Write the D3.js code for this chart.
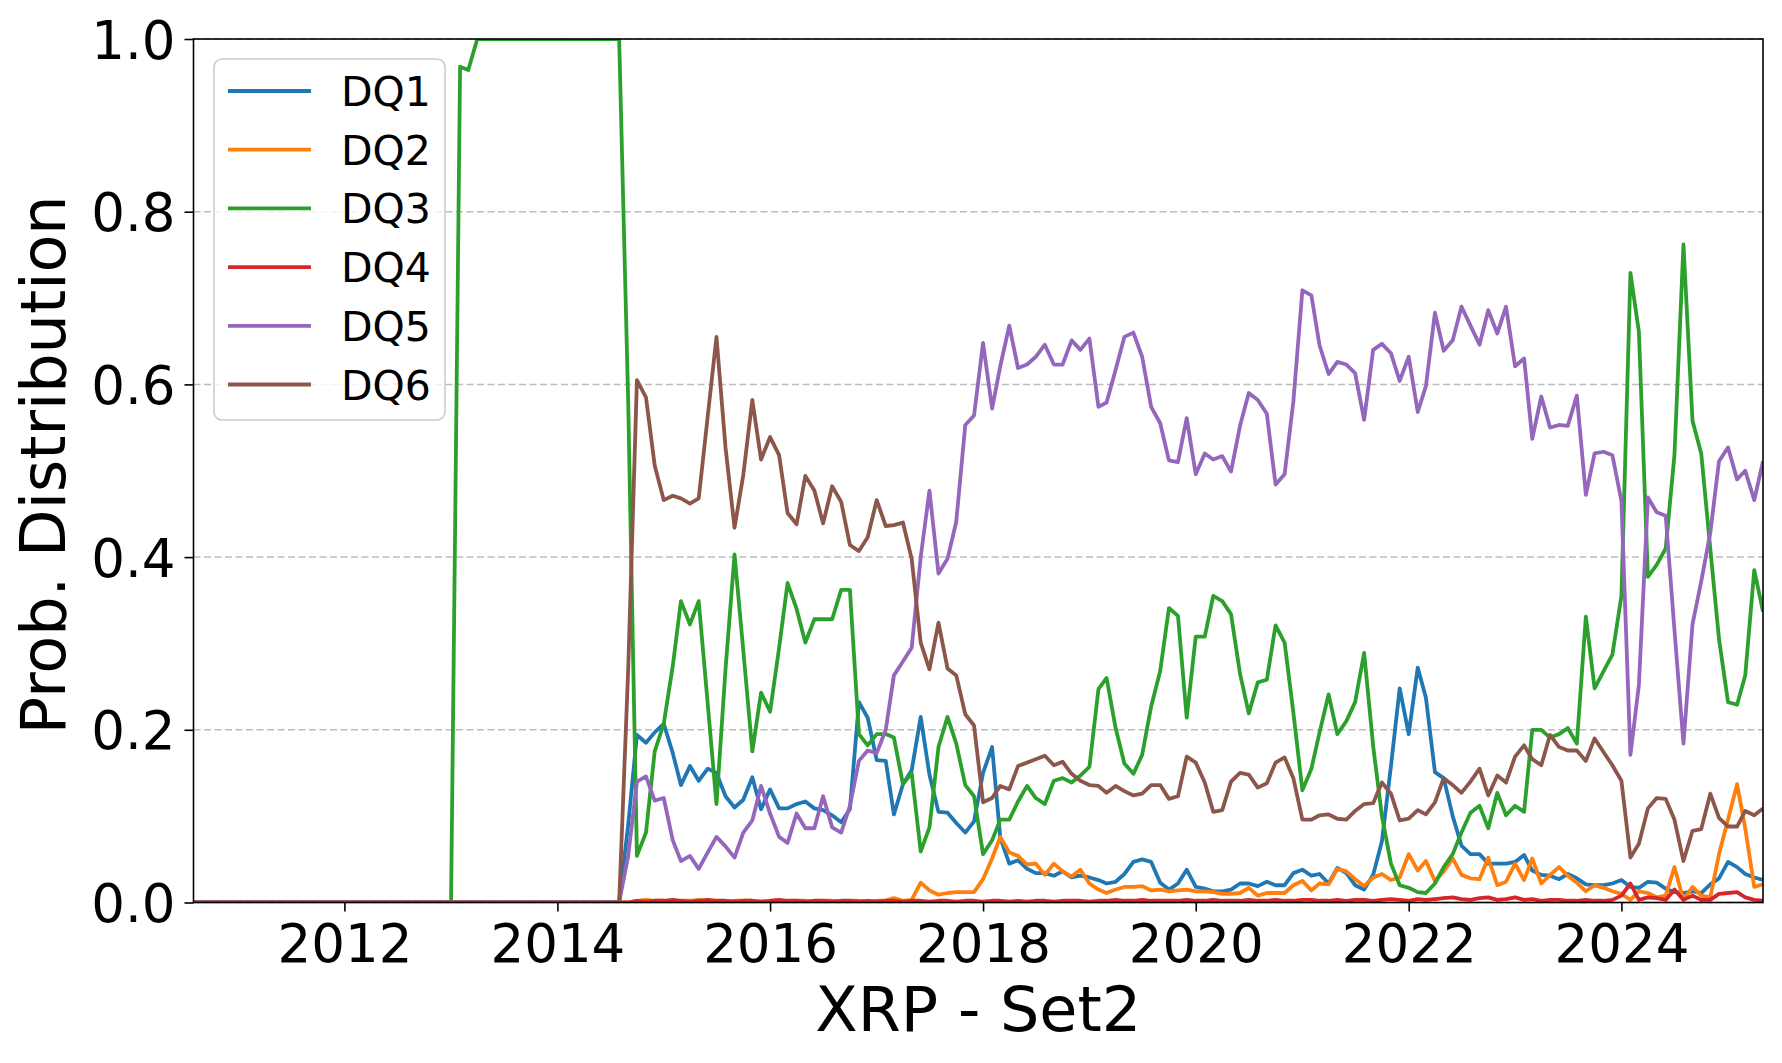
<!DOCTYPE html>
<html>
<head>
<meta charset="utf-8">
<script src="https://cdn.jsdelivr.net/npm/d3@7"></script>
<style>
  body { margin: 0; background: #fff; }
  text { font-family: "DejaVu Sans", sans-serif; }
</style>
</head>
<body>
<div id="vis"></div>
<script>
// Frame and margins
const FRAME_WIDTH = 1782;
const FRAME_HEIGHT = 1063;
const MARGINS = {left: 193.5, right: 19, top: 39, bottom: 160.5};
const VIS_WIDTH = FRAME_WIDTH - MARGINS.left - MARGINS.right;
const VIS_HEIGHT = FRAME_HEIGHT - MARGINS.top - MARGINS.bottom;

// Monthly points, Aug 2010 .. May 2025
const START_MONTH = new Date(2010, 7, 1);
const END_MONTH = new Date(2025, 4, 1);
const MONTHS = d3.timeMonth.range(START_MONTH, d3.timeMonth.offset(END_MONTH, 1));

const SERIES_NAMES = ["DQ1", "DQ2", "DQ3", "DQ4", "DQ5", "DQ6"];
const COLORS = ["#1f77b4", "#ff7f0e", "#2ca02c", "#d62728", "#9467bd", "#8c564b"];

const X_TICKS = [2012, 2014, 2016, 2018, 2020, 2022, 2024];
const Y_TICKS = [0, 0.2, 0.4, 0.6, 0.8, 1.0];

const DQ1 = [
  0,0,0,0,0,0,0,0,0,0,
  0,0,0,0,0,0,0,0,0,0,
  0,0,0,0,0,0,0,0,0,0,
  0,0,0,0,0,0,0,0,0,0,
  0,0,0,0,0,0,0,0,0,0.09,
  0.194,0.185,0.197,0.207,0.173,0.136,0.158,0.141,0.155,0.150,
  0.123,0.110,0.119,0.145,0.108,0.131,0.109,0.109,0.114,0.117,
  0.109,0.107,0.101,0.093,0.108,0.232,0.214,0.165,0.164,0.102,
  0.137,0.153,0.215,0.148,0.105,0.104,0.092,0.081,0.094,0.150,
  0.180,0.075,0.045,0.049,0.039,0.034,0.034,0.031,0.036,0.029,
  0.031,0.029,0.026,0.022,0.024,0.033,0.047,0.050,0.047,0.023,
  0.015,0.022,0.038,0.018,0.016,0.013,0.013,0.015,0.022,0.022,
  0.019,0.024,0.020,0.020,0.034,0.038,0.031,0.033,0.022,0.040,
  0.034,0.020,0.015,0.032,0.071,0.158,0.248,0.195,0.272,0.237,
  0.151,0.144,0.100,0.066,0.056,0.056,0.045,0.045,0.045,0.047,
  0.055,0.037,0.032,0.031,0.027,0.033,0.028,0.021,0.020,0.020,
  0.022,0.026,0.018,0.017,0.024,0.023,0.016,0.012,0.011,0.013,
  0.011,0.021,0.028,0.047,0.041,0.033,0.029,0.026
];

const DQ2 = [
  0,0,0,0,0,0,0,0,0,0,
  0,0,0,0,0,0,0,0,0,0,
  0,0,0,0,0,0,0,0,0,0,
  0,0,0,0,0,0,0,0,0,0,
  0,0,0,0,0,0,0,0,0,0,
  0.002,0.003,0.002,0.002,0.001,0.002,0.002,0.003,0.002,0.002,
  0.001,0.002,0.002,0.002,0.001,0.002,0.002,0.001,0.002,0.002,
  0.001,0.002,0.002,0.001,0.002,0.002,0.001,0.002,0.002,0.005,
  0.002,0.003,0.023,0.014,0.009,0.011,0.012,0.012,0.012,0.027,
  0.051,0.076,0.058,0.054,0.044,0.045,0.032,0.045,0.036,0.030,
  0.038,0.022,0.015,0.011,0.015,0.018,0.018,0.019,0.014,0.015,
  0.013,0.014,0.015,0.013,0.013,0.012,0.010,0.010,0.011,0.017,
  0.008,0.011,0.011,0.011,0.020,0.025,0.014,0.022,0.021,0.039,
  0.036,0.027,0.019,0.029,0.033,0.026,0.029,0.056,0.037,0.048,
  0.025,0.036,0.051,0.032,0.028,0.027,0.052,0.020,0.024,0.045,
  0.026,0.051,0.022,0.032,0.041,0.031,0.023,0.013,0.020,0.017,
  0.013,0.010,0.003,0.013,0.011,0.006,0.008,0.041,0.003,0.018,
  0.008,0.006,0.056,0.096,0.137,0.086,0.018,0.021
];

const DQ3 = [
  0,0,0,0,0,0,0,0,0,0,
  0,0,0,0,0,0,0,0,0,0,
  0,0,0,0,0,0,0,0,0,0,
  0.968,0.964,1,1,1,1,1,1,1,1,
  1,1,1,1,1,1,1,1,1,0.58,
  0.054,0.081,0.175,0.207,0.274,0.349,0.322,0.349,0.230,0.114,
  0.270,0.403,0.292,0.175,0.243,0.221,0.295,0.370,0.340,0.301,
  0.328,0.328,0.328,0.362,0.362,0.195,0.182,0.195,0.195,0.191,
  0.137,0.150,0.059,0.087,0.180,0.215,0.184,0.136,0.123,0.056,
  0.072,0.096,0.096,0.117,0.135,0.121,0.114,0.141,0.144,0.139,
  0.147,0.157,0.247,0.260,0.202,0.161,0.149,0.171,0.227,0.268,
  0.341,0.332,0.214,0.308,0.308,0.355,0.349,0.334,0.265,0.219,
  0.255,0.258,0.321,0.301,0.220,0.130,0.155,0.197,0.241,0.195,
  0.210,0.232,0.289,0.181,0.100,0.045,0.020,0.017,0.012,0.011,
  0.022,0.041,0.056,0.081,0.104,0.112,0.086,0.127,0.101,0.112,
  0.105,0.200,0.200,0.191,0.195,0.202,0.184,0.331,0.248,0.268,
  0.287,0.355,0.729,0.661,0.377,0.391,0.410,0.518,0.762,0.558,
  0.520,0.410,0.305,0.232,0.229,0.263,0.385,0.337
];

const DQ4 = [
  0,0,0,0,0,0,0,0,0,0,
  0,0,0,0,0,0,0,0,0,0,
  0,0,0,0,0,0,0,0,0,0,
  0,0,0,0,0,0,0,0,0,0,
  0,0,0,0,0,0,0,0,0,0,
  0.002,0.001,0.002,0.002,0.003,0.002,0.001,0.002,0.003,0.002,
  0.002,0.001,0.002,0.002,0.001,0.002,0.003,0.002,0.002,0.001,
  0.002,0.002,0.001,0.002,0.002,0.001,0.002,0.001,0.002,0.002,
  0.001,0.002,0.002,0.001,0.002,0.002,0.001,0.002,0.002,0.001,
  0.002,0.002,0.001,0.002,0.001,0.002,0.002,0.001,0.002,0.002,
  0.002,0.001,0.002,0.002,0.003,0.002,0.002,0.003,0.002,0.002,
  0.002,0.002,0.003,0.002,0.002,0.003,0.002,0.002,0.002,0.003,
  0.002,0.002,0.003,0.002,0.002,0.003,0.003,0.002,0.002,0.003,
  0.002,0.003,0.003,0.002,0.003,0.004,0.003,0.002,0.004,0.003,
  0.004,0.005,0.006,0.004,0.003,0.005,0.006,0.003,0.004,0.006,
  0.003,0.004,0.002,0.003,0.003,0.002,0.002,0.003,0.002,0.002,
  0.003,0.008,0.022,0.003,0.006,0.005,0.003,0.015,0.003,0.008,
  0.003,0.003,0.010,0.011,0.012,0.006,0.003,0.002
];

const DQ5 = [
  0,0,0,0,0,0,0,0,0,0,
  0,0,0,0,0,0,0,0,0,0,
  0,0,0,0,0,0,0,0,0,0,
  0,0,0,0,0,0,0,0,0,0,
  0,0,0,0,0,0,0,0,0,0.054,
  0.140,0.146,0.118,0.121,0.072,0.048,0.054,0.039,0.058,0.076,
  0.065,0.052,0.081,0.095,0.135,0.103,0.076,0.069,0.103,0.086,
  0.086,0.123,0.087,0.081,0.112,0.164,0.176,0.173,0.200,0.263,
  0.279,0.295,0.400,0.477,0.381,0.398,0.441,0.553,0.564,0.648,
  0.572,0.621,0.668,0.619,0.623,0.632,0.646,0.623,0.623,0.651,
  0.640,0.653,0.574,0.579,0.617,0.655,0.660,0.632,0.574,0.555,
  0.512,0.510,0.561,0.496,0.520,0.513,0.517,0.499,0.552,0.590,
  0.582,0.566,0.484,0.496,0.580,0.709,0.703,0.645,0.612,0.626,
  0.623,0.613,0.559,0.640,0.647,0.636,0.604,0.632,0.568,0.598,
  0.683,0.639,0.651,0.690,0.668,0.646,0.686,0.659,0.690,0.621,
  0.630,0.537,0.586,0.550,0.553,0.552,0.587,0.472,0.520,0.522,
  0.518,0.465,0.171,0.252,0.469,0.452,0.448,0.316,0.184,0.322,
  0.372,0.428,0.511,0.527,0.490,0.500,0.466,0.511
];

const DQ6 = [
  0,0,0,0,0,0,0,0,0,0,
  0,0,0,0,0,0,0,0,0,0,
  0,0,0,0,0,0,0,0,0,0,
  0,0,0,0,0,0,0,0,0,0,
  0,0,0,0,0,0,0,0,0,0.27,
  0.605,0.585,0.506,0.466,0.471,0.468,0.462,0.468,0.563,0.655,
  0.527,0.434,0.495,0.582,0.513,0.539,0.518,0.451,0.438,0.494,
  0.477,0.439,0.482,0.464,0.414,0.407,0.423,0.466,0.436,0.437,
  0.440,0.398,0.301,0.270,0.324,0.271,0.263,0.218,0.205,0.116,
  0.121,0.135,0.131,0.158,0.162,0.166,0.170,0.159,0.163,0.149,
  0.141,0.136,0.135,0.127,0.135,0.129,0.124,0.126,0.136,0.136,
  0.120,0.123,0.169,0.162,0.139,0.105,0.107,0.140,0.150,0.148,
  0.133,0.138,0.162,0.168,0.144,0.096,0.096,0.101,0.102,0.097,
  0.096,0.106,0.114,0.115,0.139,0.126,0.095,0.097,0.107,0.102,
  0.116,0.144,0.136,0.127,0.140,0.155,0.124,0.147,0.139,0.169,
  0.182,0.166,0.159,0.194,0.180,0.176,0.176,0.164,0.190,0.174,
  0.159,0.141,0.052,0.068,0.109,0.121,0.120,0.096,0.048,0.083,
  0.085,0.126,0.098,0.088,0.088,0.106,0.101,0.109
];

const SERIES = [DQ1, DQ2, DQ3, DQ4, DQ5, DQ6];

// Frame
const FRAME = d3.select("#vis")
                .append("svg")
                  .attr("width", FRAME_WIDTH)
                  .attr("height", FRAME_HEIGHT);

const PLOT = FRAME.append("g")
                  .attr("transform", "translate(" + MARGINS.left + "," + MARGINS.top + ")");

// Scales
const X_SCALE = d3.scaleTime()
                  .domain([START_MONTH, END_MONTH])
                  .range([0, VIS_WIDTH]);

const Y_SCALE = d3.scaleLinear()
                  .domain([0, 1])
                  .range([VIS_HEIGHT, 0]);

// Dashed horizontal grid
PLOT.append("g")
    .selectAll("line")
    .data(Y_TICKS)
    .enter()
    .append("line")
      .attr("x1", 0)
      .attr("x2", VIS_WIDTH)
      .attr("y1", (d) => Y_SCALE(d))
      .attr("y2", (d) => Y_SCALE(d))
      .attr("stroke", "#bdbdbd")
      .attr("stroke-width", 1.5)
      .attr("stroke-dasharray", "7,3.5");

// Clip lines to the axes box
FRAME.append("defs")
     .append("clipPath")
       .attr("id", "clip")
     .append("rect")
       .attr("width", VIS_WIDTH)
       .attr("height", VIS_HEIGHT);

const LINE = d3.line()
               .x((d, i) => X_SCALE(MONTHS[i]))
               .y((d) => Y_SCALE(d));

PLOT.append("g")
    .attr("clip-path", "url(#clip)")
    .selectAll("path")
    .data(SERIES)
    .enter()
    .append("path")
      .attr("d", (d) => LINE(d))
      .attr("fill", "none")
      .attr("stroke", (d, i) => COLORS[i])
      .attr("stroke-width", 3.8)
      .attr("stroke-linejoin", "round");

// X axis
const X_AXIS = PLOT.append("g")
    .attr("transform", "translate(0," + VIS_HEIGHT + ")")
    .call(d3.axisBottom(X_SCALE)
            .tickValues(X_TICKS.map((y) => new Date(y, 0, 1)))
            .tickFormat(d3.timeFormat("%Y"))
            .tickSize(9)
            .tickPadding(13)
            .tickSizeOuter(0));
X_AXIS.select(".domain").remove();
X_AXIS.selectAll("line").attr("stroke-width", 1.6);
X_AXIS.selectAll("text")
      .attr("font-size", "53px")
      .attr("font-family", "DejaVu Sans")
      .attr("fill", "#000");

// Y axis
const Y_AXIS = PLOT.append("g")
    .call(d3.axisLeft(Y_SCALE)
            .tickValues(Y_TICKS)
            .tickFormat(d3.format(".1f"))
            .tickSize(9)
            .tickPadding(9)
            .tickSizeOuter(0));
Y_AXIS.select(".domain").remove();
Y_AXIS.selectAll("line").attr("stroke-width", 1.6);
Y_AXIS.selectAll("text")
      .attr("font-size", "53px")
      .attr("font-family", "DejaVu Sans")
      .attr("dy", "0.36em")
      .attr("fill", "#000");

// Axes box
PLOT.append("rect")
    .attr("width", VIS_WIDTH)
    .attr("height", VIS_HEIGHT)
    .attr("fill", "none")
    .attr("stroke", "#000")
    .attr("stroke-width", 1.6);

// Axis labels
FRAME.append("text")
     .attr("x", MARGINS.left + VIS_WIDTH / 2)
     .attr("y", 1031)
     .attr("text-anchor", "middle")
     .attr("font-size", "62px")
     .text("XRP - Set2");

FRAME.append("text")
     .attr("transform", "translate(65," + (MARGINS.top + VIS_HEIGHT / 2 - 6) + ") rotate(-90)")
     .attr("text-anchor", "middle")
     .attr("font-size", "62px")
     .text("Prob. Distribution");

// Legend
const LEGEND = FRAME.append("g")
                    .attr("transform", "translate(214,59)");

LEGEND.append("rect")
      .attr("width", 231)
      .attr("height", 361)
      .attr("rx", 8)
      .attr("fill", "#fff")
      .attr("fill-opacity", 0.8)
      .attr("stroke", "#cccccc")
      .attr("stroke-width", 1.6);

const ENTRIES = LEGEND.selectAll(".entry")
                      .data(SERIES_NAMES)
                      .enter()
                      .append("g")
                        .attr("class", "entry")
                        .attr("transform", (d, i) => "translate(0," + (32 + i * 58.7) + ")");

ENTRIES.append("line")
       .attr("x1", 14)
       .attr("x2", 97)
       .attr("stroke", (d, i) => COLORS[i])
       .attr("stroke-width", 3.8);

ENTRIES.append("text")
       .attr("x", 127)
       .attr("y", 15)
       .attr("font-size", "41px")
       .text((d) => d);
</script>
</body>
</html>
